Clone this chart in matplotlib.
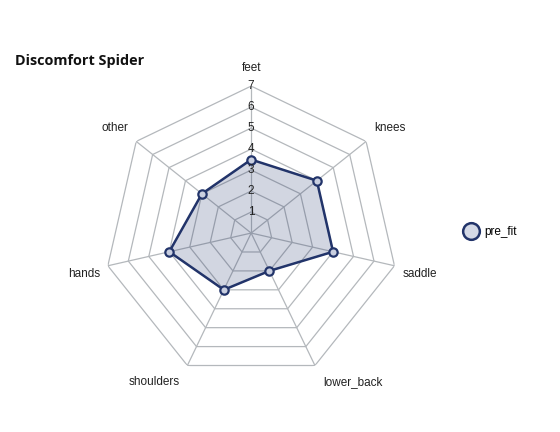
import numpy as np
import matplotlib
matplotlib.use("Agg")
import matplotlib.pyplot as plt

categories = ["feet", "knees", "saddle", "lower_back", "shoulders", "hands", "other"]
pre_fit = [3.5, 4, 4, 2, 3, 4, 3]
rings = [1, 2, 3, 4, 5, 6, 7]

navy = "#22346a"
fill = "#22346a"
grid_c = "#b4b8bc"

plt.rcParams["font.family"] = ["Liberation Sans", "DejaVu Sans"]

fig = plt.figure(figsize=(5.6, 4.32), dpi=100)
ax = fig.add_axes([0.186, 0.12, 0.525, 0.681], projection="polar")
ax.set_theta_zero_location("N")
ax.set_theta_direction(-1)
ax.set_ylim(0, 7)
ax.grid(False)
ax.spines["polar"].set_visible(False)
ax.set_xticks([])
ax.set_yticks([])
ax.patch.set_alpha(0)

n = len(categories)
theta = np.arange(n) * 2 * np.pi / n
closed = np.append(theta, theta[0])

# polygon grid
for r in rings:
    ax.plot(closed, [r] * (n + 1), color=grid_c, lw=0.9, zorder=1)
for t in theta:
    ax.plot([t, t], [0, rings[-1]], color=grid_c, lw=0.9, zorder=1)

vals = np.append(pre_fit, pre_fit[0])
ax.fill(closed, vals, color=fill, alpha=0.2, zorder=2)
ax.plot(closed, vals, color=navy, lw=1.8, zorder=3)
ax.plot(theta, pre_fit, "o", ms=6, mfc="#c9cfe0", mec=navy, mew=1.6, zorder=4)

for r in rings:
    ax.text(0, r, str(r), ha="center", va="center", fontsize=8.5, color="#222222", zorder=5)

for t, name in zip(theta, categories):
    s, c = np.sin(t), np.cos(t)
    if abs(s) < 0.1:
        ha = "center"
    elif s > 0:
        ha = "left"
    else:
        ha = "right"
    dx = 8 * np.sign(s) if ha != "center" else 0
    dy = 18 * c + (7 if c > 0 else 5) * np.sign(c) * (1 - abs(c))
    ax.annotate(name, xy=(t, 7), xytext=(dx, dy),
                textcoords="offset pixels", ha=ha, va="center", fontsize=8.5,
                color="#222222", annotation_clip=False)

fig.text(0.027, 0.859, "Discomfort Spider", fontsize=10.4, fontweight="bold",
         family=["Open Sans", "DejaVu Sans"], color="#111111", va="center")

h = plt.Line2D([], [], marker="o", ls="none", ms=12, mfc="#d4d9e6", mec=navy, mew=1.8)
fig.legend([h], ["pre_fit"], loc="center left", bbox_to_anchor=(0.81, 0.463),
           frameon=False, fontsize=8.5, handletextpad=0.1, borderpad=0)

fig.savefig("out.png", dpi=100)
